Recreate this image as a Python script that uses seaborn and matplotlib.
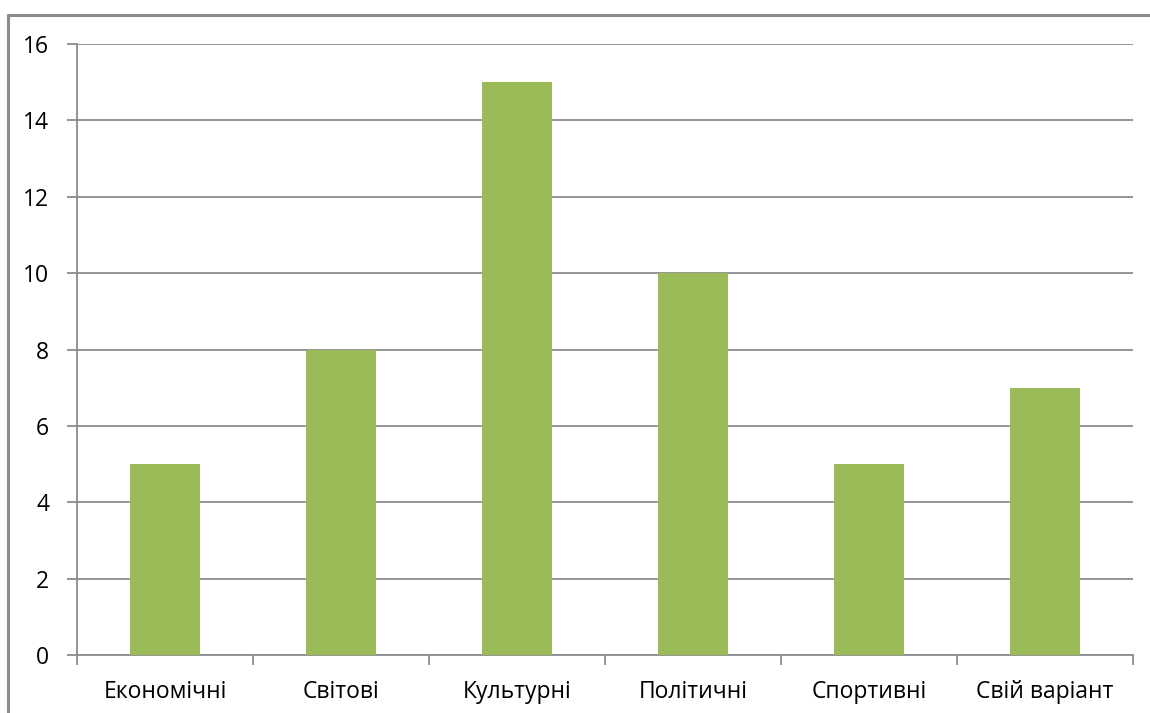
import matplotlib
matplotlib.use("Agg")
import matplotlib.pyplot as plt
import seaborn as sns
import numpy as np
import pandas as pd
from matplotlib.lines import Line2D

categories = ["Економічні", "Світові", "Культурні", "Політичні", "Спортивні", "Свій варіант"]
values = [5, 8, 15, 10, 5, 7]
yticks = [0, 2, 4, 6, 8, 10, 12, 14, 16]

df = pd.DataFrame({"category": categories, "value": values})

sns.set_style("white")
plt.rcParams["font.family"] = ["Open Sans", "DejaVu Sans"]

fig = plt.figure(figsize=(11.5, 7.13), dpi=100)
ax = fig.add_axes([0.067, 0.0813, 0.918, 0.857])

grid_color = "#8c8c8c"
sns.barplot(data=df, x="category", y="value", color="#9BBB59", width=0.4,
            saturation=1, linewidth=0, ax=ax, zorder=3)

ax.set_ylim(0, 16)
ax.set_xlim(-0.5, len(categories) - 0.5)
ax.set_yticks(yticks)
ax.set_xlabel("")
ax.set_ylabel("")
ax.yaxis.grid(True, color=grid_color, linewidth=1.3, zorder=0)
ax.set_axisbelow(True)

for s in ["top", "right"]:
    ax.spines[s].set_visible(False)
for s in ["left", "bottom"]:
    ax.spines[s].set_color(grid_color)
    ax.spines[s].set_linewidth(1.3)

ax.tick_params(axis="y", which="major", left=True, length=7, width=1.3,
               color=grid_color, labelsize=16.5, pad=13, labelcolor="black")
ax.tick_params(axis="x", which="major", length=0, labelsize=16.5, pad=18,
               labelcolor="black")
ax.set_xticks(np.arange(-0.5, len(categories)), minor=True)
ax.tick_params(axis="x", which="minor", bottom=True, length=7, width=1.3,
               color=grid_color)

# outer chart frame
frame_color = "#8c8c8c"
fig.add_artist(Line2D([8 / 1150, 1.0], [1 - 15 / 713, 1 - 15 / 713],
                      transform=fig.transFigure, color=frame_color, linewidth=2.2))
fig.add_artist(Line2D([8 / 1150, 8 / 1150], [0, 1 - 15 / 713],
                      transform=fig.transFigure, color=frame_color, linewidth=2.2))

fig.savefig("out.png", dpi=100)
